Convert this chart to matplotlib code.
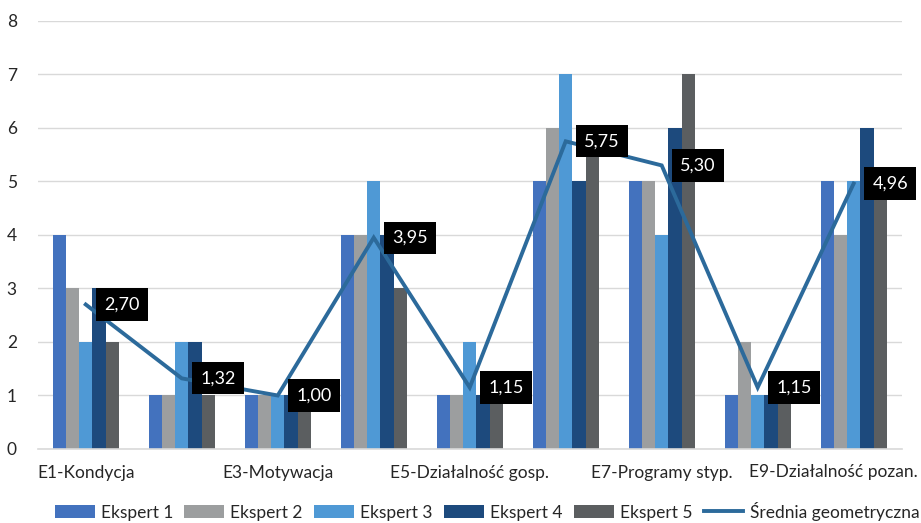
import numpy as np
import matplotlib
matplotlib.use("Agg")
import matplotlib.pyplot as plt
import matplotlib.transforms as mtransforms

plt.rcParams['font.family'] = ['Lato', 'DejaVu Sans']

kategorie = ["E1-Kondycja", "E2", "E3-Motywacja", "E4", "E5-Działalność gosp.",
             "E6", "E7-Programy styp.", "E8", "E9-Działalność pozan."]
etykiety = ["E1-Kondycja", "", "E3-Motywacja", "", "E5-Działalność gosp.",
            "", "E7-Programy styp.", "", "E9-Działalność pozan."]

ekspert1 = [4, 1, 1, 4, 1, 5, 5, 1, 5]
ekspert2 = [3, 1, 1, 4, 1, 6, 5, 2, 4]
ekspert3 = [2, 2, 1, 5, 2, 7, 4, 1, 5]
ekspert4 = [3, 2, 1, 4, 1, 5, 6, 1, 6]
ekspert5 = [2, 1, 1, 3, 1, 6, 7, 1, 5]
srednia = [2.70, 1.32, 1.00, 3.95, 1.15, 5.75, 5.30, 1.15, 4.96]

serie = [ekspert1, ekspert2, ekspert3, ekspert4, ekspert5]
nazwy = ["Ekspert 1", "Ekspert 2", "Ekspert 3", "Ekspert 4", "Ekspert 5"]
kolory = ["#4372BE", "#9C9E9F", "#4F99D5", "#1D4A7D", "#5B5E60"]
kolor_linii = "#2C6A9B"
kolor_tekstu = "#262626"

fig = plt.figure(figsize=(9.21, 5.23), dpi=100)
ax = fig.add_axes([0.041, 0.1415, 0.938, 0.8185])

x = np.arange(len(kategorie))
w = 0.138
uchwyty = []
for j, (vals, nazwa, kol) in enumerate(zip(serie, nazwy, kolory)):
    b = ax.bar(x + (j - 2) * w, vals, width=w, color=kol, label=nazwa,
               linewidth=0, zorder=2)
    uchwyty.append(b)

linia, = ax.plot(x, srednia, color=kolor_linii, linewidth=2.8,
                 label="Średnia geometryczna", zorder=3, solid_joinstyle="miter")
uchwyty.append(linia)

# etykiety średniej w czarnych ramkach, na prawo od punktu
for xi, v in zip(x, srednia):
    ax.annotate(f"{v:.2f}".replace(".", ","), (xi, v), xytext=(13.5, 0),
                textcoords="offset points", ha="left", va="center",
                color="white", fontsize=13, zorder=5,
                bbox=dict(boxstyle="square,pad=0.45", fc="black", ec="none"))

ax.set_xlim(-0.5, len(kategorie) - 0.5)
ax.set_ylim(0, 8)
ax.set_yticks(range(0, 9))
ax.set_xticks(x)
ax.set_xticklabels([])
ax.tick_params(axis="both", length=0, labelsize=12.5, colors=kolor_tekstu)
ax.tick_params(axis="y", pad=15)

# podpisy kategorii pod osią; ostatni dosunięty do prawej krawędzi
trans = mtransforms.blended_transform_factory(ax.transData, ax.transAxes)
for xi, et in zip(x, etykiety):
    if not et:
        continue
    if xi == x[-1]:
        fig.text(0.996, 0.098, et, ha="right", va="center", fontsize=12.5,
                 color=kolor_tekstu)
    else:
        ax.text(xi, -0.055, et, transform=trans, ha="center", va="center",
                fontsize=12.5, color=kolor_tekstu)

ax.grid(axis="y", color="#D9D9D9", linewidth=1, zorder=0)
ax.set_axisbelow(True)
for s in ["top", "right", "left"]:
    ax.spines[s].set_visible(False)
ax.spines["bottom"].set_color("#D9D9D9")
ax.spines["bottom"].set_linewidth(1.2)

ax.legend(handles=uchwyty, loc="center", bbox_to_anchor=(0.52, -0.145), ncol=6,
          frameon=False, fontsize=12.5, handlelength=2.3, handletextpad=0.35,
          columnspacing=0.65, borderaxespad=0, labelcolor=kolor_tekstu)

fig.savefig("out.png", dpi=100)
